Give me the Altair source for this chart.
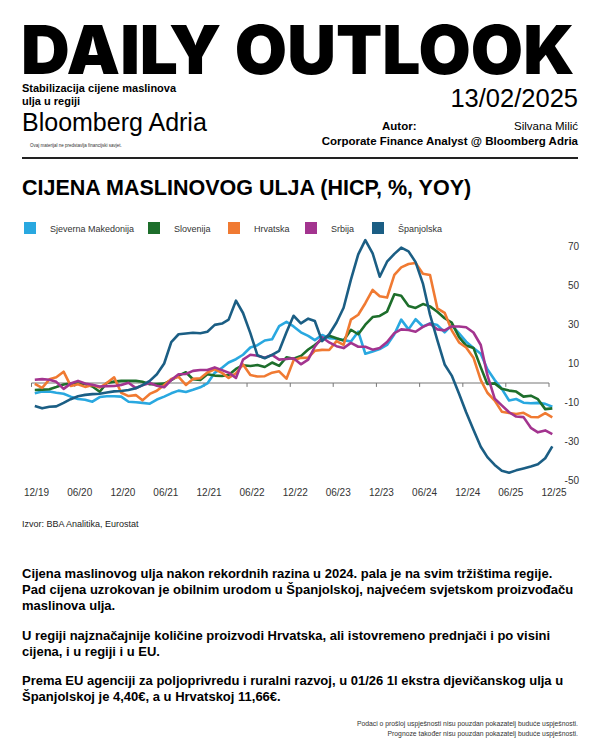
import altair as alt
import pandas as pd

# ---------------- data ----------------
series_names = ["Sjeverna Makedonija", "Slovenija", "Hrvatska", "Srbija", "Španjolska"]
series_colors = ["#29a8e0", "#1d6e2b", "#f07a32", "#a3348f", "#1b5e84"]

# monthly YoY (%) Dec 2019 .. Dec 2025
sjeverna_makedonija = [-5.3, -4.4, -4.4, -5.0, -5.5, -7.0, -8.2, -8.6, -9.6, -7.2, -6.8, -6.8, -7.0,
                       -9.6, -9.9, -10.2, -10.6, -8.5, -7.0, -5.3, -3.9, -4.6, -3.5, -2.2, -0.2,
                       5.2, 7.8, 10.5, 12.2, 14.5, 18.2, 19.4, 21.8, 22.4, 29.2, 31.4, 29.0,
                       26.0, 24.2, 22.0, 24.6, 23.0, 22.7, 22.0, 21.3, 26.3, 15.0, 16.2, 17.4,
                       19.5, 25.0, 32.5, 27.5, 32.7, 29.0, 30.6, 29.7, 26.0, 29.7, 25.5, 21.2,
                       18.0, 15.0, 7.0, 1.5, -3.0, -9.0, -8.2, -10.1, -10.4, -10.2, -10.7, -12.2]
slovenija = [-3.6, -3.4, -3.2, -2.1, -0.8, -0.3, -0.3, -0.5, -1.8, -4.5, 0.0, 0.7, 1.1,
             1.1, 1.1, 0.6, -0.6, -0.6, -0.3, 1.5, 3.8, 5.5, 1.9, 1.6, 4.5,
             3.8, 3.6, 4.1, 7.2, 9.1, 8.7, 9.2, 8.2, 10.5, 8.8, 13.2, 12.4,
             13.8, 17.2, 19.5, 22.5, 24.2, 22.9, 21.8, 27.3, 25.0, 29.9, 33.8, 34.4,
             36.6, 45.5, 44.7, 39.5, 38.5, 40.5, 39.3, 36.5, 33.2, 31.0, 23.5, 19.2,
             18.0, 8.0, -0.5, -0.2, -3.0, -3.9, -4.4, -7.0, -6.5, -8.3, -13.4, -13.0]
hrvatska = [-0.5, -2.5, 1.9, 2.9, 5.8, -1.5, -0.6, -2.0, -1.0, -2.3, 0.0, 2.9, -5.0,
            -6.7, -6.2, -8.9, -5.6, -4.0, -1.0, 2.0, 3.2, -1.0, 2.1, 2.4, 5.4,
            7.0, 5.2, 2.6, 5.0, 9.5, 4.1, 3.3, 3.5, 5.3, 6.0, 2.2, 11.6,
            12.9, 13.0, 16.5, 17.0, 16.9, 21.5, 19.5, 32.5, 35.0, 40.9, 47.7, 44.5,
            43.8, 55.4, 59.3, 61.0, 61.5, 56.0, 55.4, 38.3, 36.0, 27.0, 20.8, 18.2,
            13.0, 1.5, -5.0, -9.0, -14.7, -15.4, -15.9, -15.3, -17.4, -17.6, -15.5, -17.6]
srbija = [1.7, 2.0, 1.7, 0.6, -3.0, -0.3, 1.1, -0.3, -0.9, -1.8, -1.6, -1.5, -1.0,
          0.1, -2.6, -1.2, 0.0, -1.4, -2.2, 1.5, 4.5, 4.6, 6.2, 6.7, 6.7,
          8.0, 6.6, 5.3, 2.6, 12.0, 14.5, 14.0, 13.0, 14.4, 12.0, 12.3, 12.7,
          9.6, 12.0, 18.6, 23.5, 20.8, 18.9, 17.9, 20.6, 18.6, 18.6, 17.1, 18.0,
          21.0, 25.6, 27.5, 27.2, 26.3, 28.8, 30.4, 27.5, 27.0, 29.0, 29.0, 28.6,
          25.9, 19.5, 4.0, -8.0, -11.5, -15.0, -17.2, -17.5, -23.0, -25.3, -24.3, -26.2]
spanjolska = [-11.8, -13.0, -12.2, -12.0, -10.2, -8.3, -6.8, -6.1, -5.7, -5.5, -4.9, -4.3, -4.1,
              -3.6, -2.7, -1.1, 1.1, 4.5, 10.0, 21.0, 25.0, 25.4, 25.8, 25.5, 26.3,
              29.8, 30.5, 32.5, 42.2, 35.9, 25.6, 14.2, 12.7, 14.4, 16.5, 26.0, 34.5,
              30.6, 33.0, 31.8, 21.5, 25.0, 31.0, 38.6, 53.0, 66.0, 73.3, 66.5, 54.5,
              62.2, 66.2, 69.4, 67.5, 62.0, 51.0, 35.0, 22.0, 9.5, 3.8, -5.5, -15.0,
              -24.0, -32.7, -38.0, -42.0, -45.0, -46.0, -44.8, -43.8, -42.8, -41.7, -38.6, -32.5]

months = [(d + pd.Timedelta(days=14)).strftime("%Y-%m-%dT00:00:00")
          for d in pd.date_range("2019-12-01", periods=73, freq="MS")]

tick_dates = ["2019-12-01", "2020-06-01", "2020-12-01", "2021-06-01", "2021-12-01", "2022-06-01",
              "2022-12-01", "2023-06-01", "2023-12-01", "2024-06-01", "2024-12-01", "2025-06-01",
              "2025-12-01"]
tick_labels = ["12/19", "06/20", "12/20", "06/21", "12/21", "06/22", "12/22", "06/23", "12/23",
               "06/24", "12/24", "06/25", "12/25"]
y_ticks = [-50, -30, -10, 10, 30, 50, 70]

values = [sjeverna_makedonija, slovenija, hrvatska, srbija, spanjolska]
rows = []
for name, vals in zip(series_names, values):
    for m, v in zip(months, vals):
        rows.append({"date": m, "v": v, "zemlja": name})
df = pd.DataFrame(rows)

ticks_df = pd.DataFrame({"date": [t + "T00:00:00" for t in tick_dates], "label": tick_labels})
yt_df = pd.DataFrame({"v": y_ticks, "label": [str(v) for v in y_ticks],
                      "date": [tick_dates[-1] + "T00:00:00"] * len(y_ticks)})
zero_df = pd.DataFrame({"date": [tick_dates[0] + "T00:00:00"], "date2": [tick_dates[-1] + "T00:00:00"],
                        "v": [0]})

# ---------------- layout ----------------
FONT = "Liberation Sans"
W, H = 584, 734
X0, X1 = 23.5, 541.0
Y_BOT, Y_TOP = 472.5, 238.5

xscale = alt.Scale(domain=[alt.DateTime(year=2019, month=12, date=1),
                           alt.DateTime(year=2025, month=12, date=1)],
                   range=[X0, X1])
yscale = alt.Scale(domain=[-50, 70], range=[Y_BOT, Y_TOP], nice=False, zero=False)
cscale = alt.Scale(domain=series_names, range=series_colors)

one = pd.DataFrame({"a": [0]})


def txt(text, x, y, size, weight="normal", align="left", color="#000", font=FONT):
    return alt.Chart(one).mark_text(
        text=text, align=align, baseline="alphabetic", fontSize=size, fontWeight=weight,
        font=font, color=color
    ).encode(x=alt.value(x), y=alt.value(y))


X = alt.X("date:T", scale=xscale, axis=None)
Y = alt.Y("v:Q", scale=yscale, axis=None)

lines = alt.Chart(df).mark_line(strokeWidth=2.6, strokeJoin="round").encode(
    x=X, y=Y,
    color=alt.Color("zemlja:N", scale=cscale, legend=None),
)

zero_line = alt.Chart(zero_df).mark_rule(color="#777", strokeWidth=1).encode(
    x=X, x2="date2:T", y=Y)

tick_marks = alt.Chart(ticks_df).transform_calculate(v="0", v2="-2").mark_rule(
    color="#777", strokeWidth=1).encode(x=X, y=alt.Y("v:Q", scale=yscale, axis=None), y2="v2:Q")

x_labels = alt.Chart(ticks_df).mark_text(font=FONT, fontSize=10, color="#333", baseline="middle",
                                         dx=5).encode(
    x=X, y=alt.value(485), text="label:N")

# y labels sit to the right of the last tick (right-hand axis)
y_labels = alt.Chart(yt_df).mark_text(font=FONT, fontSize=10, color="#333", align="right",
                                      baseline="middle", dx=30).encode(
    x=X, y=Y, text="label:N")

rule_top = alt.Chart(one).mark_rule(color="#222", strokeWidth=2).encode(
    x=alt.value(14), x2=alt.value(570), y=alt.value(150))

# legend (custom): item x offsets are layout
legend_x = [16, 140, 220, 297, 364]
legend_layers = []
for name, col, lx in zip(series_names, series_colors, legend_x):
    legend_layers.append(alt.Chart(one).mark_square(size=144, color=col, opacity=1).encode(
        x=alt.value(lx + 6), y=alt.value(220)))
    legend_layers.append(txt(name, lx + 26, 223.5, 9, color="#333"))

PB = 13  # paragraph font size
texts = [
    txt("DAILY OUTLOOK", 13, 65.5, 67.5, weight=900, font="Inter"),
    txt("Stabilizacija cijene maslinova", 14, 84, 11, weight="bold"),
    txt("ulja u regiji", 14, 96.5, 11, weight="bold"),
    txt("13/02/2025", 570, 99, 25.5, align="right"),
    txt("Bloomberg Adria", 14, 123, 25),
    txt("Ovaj materijal ne predstavlja financijski savjet.", 22, 139, 4.5, color="#333"),
    txt("Autor:", 374, 122, 11.5, weight="bold"),
    txt("Silvana Milić", 570, 122, 11.5, align="right"),
    txt("Corporate Finance Analyst @ Bloomberg Adria", 570, 137, 11.5, weight="bold", align="right"),
    txt("CIJENA MASLINOVOG ULJA (HICP, %, YOY)", 14, 187, 21.5, weight="bold"),
    txt("Izvor: BBA Analitika, Eurostat", 14, 519, 9, color="#222"),
    txt("Cijena maslinovog ulja nakon rekordnih razina u 2024. pala je na svim tržištima regije.", 14, 570, PB, weight="bold"),
    txt("Pad cijena uzrokovan je obilnim urodom u Španjolskoj, najvećem svjetskom proizvođaču", 14, 586, PB, weight="bold"),
    txt("maslinova ulja.", 14, 602, PB, weight="bold"),
    txt("U regiji najznačajnije količine proizvodi Hrvatska, ali istovremeno prednjači i po visini", 14, 632, PB, weight="bold"),
    txt("cijena, i u regiji i u EU.", 14, 648, PB, weight="bold"),
    txt("Prema EU agenciji za poljoprivredu i ruralni razvoj, u 01/26 1l ekstra djevičanskog ulja u", 14, 677, PB, weight="bold"),
    txt("Španjolskoj je 4,40€, a u Hrvatskoj 11,66€.", 14, 693, PB, weight="bold"),
    txt("Podaci o prošloj uspješnosti nisu pouzdan pokazatelj buduće uspješnosti.", 570, 718, 6.8, align="right", color="#333"),
    txt("Prognoze također nisu pouzdan pokazatelj buduće uspješnosti.", 570, 728, 6.8, align="right", color="#333"),
]

chart = alt.layer(
    zero_line, tick_marks, lines, x_labels, y_labels, rule_top, *legend_layers, *texts
).properties(
    width=W, height=H, autosize=alt.AutoSizeParams(type="none"), padding=0,
    background="white"
).configure_view(stroke=None)

chart.save("out.html", embed_options={"renderer": "svg", "actions": False})
